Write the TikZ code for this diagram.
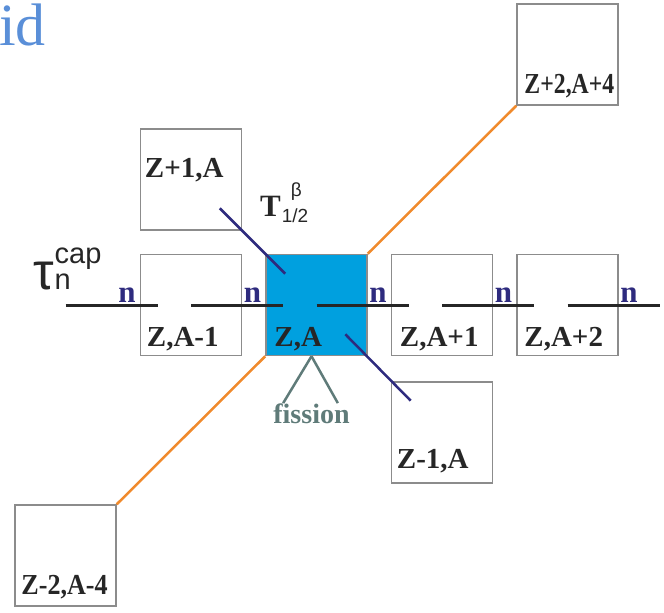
\documentclass[tikz,border=0pt]{standalone}
\usepackage{fontspec}
\setmainfont{Liberation Serif}
\setsansfont{Liberation Sans}
\usepackage{xcolor}
\usepackage{graphicx}
\usepackage{tikz}
\usetikzlibrary{positioning, calc}
\definecolor{cellgray}{HTML}{8C8C8C}
\definecolor{nucblue}{HTML}{00A0DF}
\definecolor{betanavy}{HTML}{2E2B7E}
\definecolor{alphaorange}{HTML}{F08A2C}
\definecolor{fissgray}{HTML}{5F7B79}
\definecolor{titleblue}{HTML}{5A8FD8}
\definecolor{textdark}{HTML}{262626}

\begin{document}
\begin{tikzpicture}[
x=1pt, y=-1pt,
cell/.style={rectangle, draw=cellgray, line width=1.5pt, minimum size=101pt, inner sep=0pt},
zlabel/.style={anchor=base west, inner sep=0pt, font=\fontsize{29}{29}\selectfont\bfseries, text=textdark},
nlabel/.style={anchor=base east, inner sep=0pt, font=\fontsize{31}{31}\selectfont\bfseries, text=betanavy},
ncapline/.style={line width=3pt, draw=textdark},
betaline/.style={line width=2.5pt, draw=betanavy},
alphaline/.style={line width=2.5pt, draw=alphaorange},
fissline/.style={line width=2.5pt, draw=fissgray}
]
\useasboundingbox (0,0) rectangle (664,613);

% Cells
\node (za) [cell, fill=nucblue] at (316.5,305) {};
\node (zam1) [cell, left=23pt of za] {};
\node (zap1) [cell, right=23pt of za] {};
\node (zap2) [cell, right=23pt of zap1] {};
\node (zp1a) [cell, above=23pt of zam1] {};
\node (zm1a) [cell, below=25pt of zap1] {};
\node (zp2ap4) [cell, above=148pt of zap2] {};
\node (zm2am4) [cell, below left=148pt and 23pt of zam1] {};

\coordinate (cprev) at (zm2am4 |- za);
\coordinate (cnext) at ([xshift=125.5pt]zap2.west);

% Neutron capture chain
\foreach \a/\b in {cprev/zam1.west, zam1/za.west, za/zap1.west, zap1/zap2.west, zap2/cnext}
  \draw [ncapline] (\a.center) -- ([xshift=18pt]\b);
\foreach \w [count=\i] in {zam1.west, za.west, zap1.west, zap2.west, cnext}
  \node (n\i) [nlabel] at ([shift={(-4pt,3pt)}]\w) {n};

% Beta decay
\foreach \a/\b in {zp1a/za, za/zm1a}
  \draw [betaline] ($(\a)!0.23!(\b)$) -- ($(\a)!0.75!(\b)$);

% Alpha decay
\draw [alphaline] (za.south west) -- (zm2am4.north east);
\draw [alphaline] (za.north east) -- (zp2ap4.south west);

% Fission
\node (fis) [anchor=base, inner sep=0pt, font=\fontsize{28}{28}\selectfont\bfseries, text=fissgray] at (311.5,423) {fission};
\coordinate (fork) at ([xshift=-5pt]za.south);
\draw [fissline] (fork) -- ([xshift=10pt]fis.north west);
\draw [fissline] (fork) -- ([xshift=-12pt]fis.north east);

% Cell labels
\foreach \c/\dx/\dy/\txt in {zam1/7/10/{Z,A-1}, za/9/10/{Z,A}, zap1/9/10/{Z,A+1}, zap2/8/10/{Z,A+2}, zm1a/6/15/{Z-1,A}}
  \node (l\c) [zlabel] at ([shift={(\dx pt,\dy pt)}]\c.south west) {\txt};
\node (lzp2ap4) [zlabel] at ([shift={(8pt,12pt)}]zp2ap4.south west) {\scalebox{0.82}[1]{Z+2,A+4}};
\node (lzm2am4) [zlabel] at ([shift={(7pt,12pt)}]zm2am4.south west) {\scalebox{0.9}[1]{Z-2,A-4}};
\node (lzp1a) [zlabel] at ([shift={(5pt,-49pt)}]zp1a.north west) {Z+1,A};

% Rate labels
\node (tau) [anchor=base west, inner sep=0pt, text=textdark, font=\sffamily] at (33,289)
  {\fontsize{52}{52}\selectfont τ\hspace{1pt}\fontsize{29}{29}\selectfont\rlap{\raisebox{26pt}{cap}}n};
\node (thalf) [anchor=base west, inner sep=0pt, text=textdark] at (260,216)
  {\fontsize{31}{31}\selectfont\bfseries T\sffamily\mdseries\fontsize{19}{19}\selectfont\rlap{\hspace{10pt}\raisebox{20pt}{β}}\hspace{1pt}\raisebox{-6pt}{1/2}};
\node (idtxt) [anchor=base east, inner sep=0pt, text=titleblue, font=\fontsize{60}{60}\selectfont] at (46,45) {id};

\end{tikzpicture}
\end{document}
